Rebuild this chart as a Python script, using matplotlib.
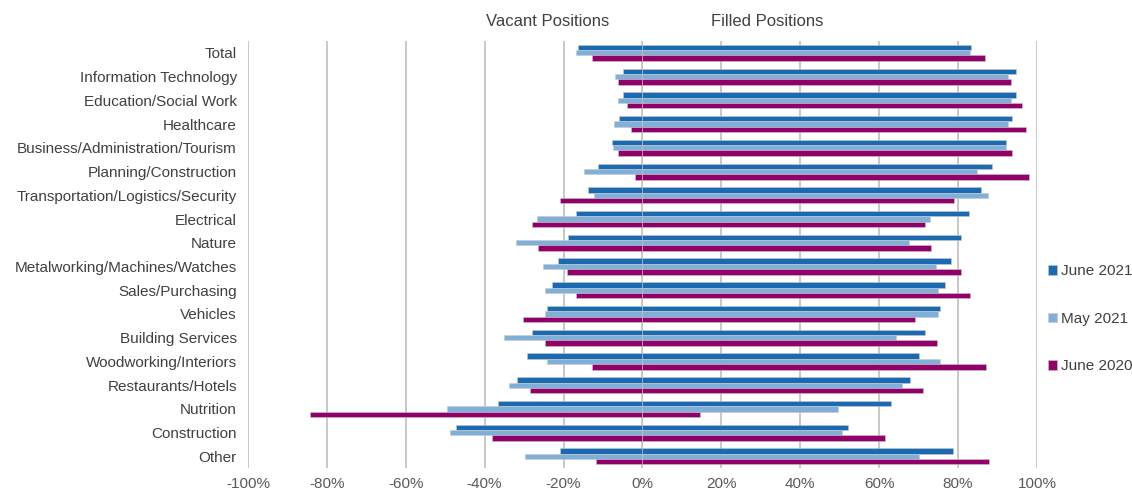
import numpy as np
import matplotlib.pyplot as plt

plt.rcParams['font.family'] = ['Liberation Sans', 'DejaVu Sans']

categories = ['Total', 'Information Technology', 'Education/Social Work', 'Healthcare',
              'Business/Administration/Tourism', 'Planning/Construction',
              'Transportation/Logistics/Security', 'Electrical', 'Nature',
              'Metalworking/Machines/Watches', 'Sales/Purchasing', 'Vehicles',
              'Building Services', 'Woodworking/Interiors', 'Restaurants/Hotels',
              'Nutrition', 'Construction', 'Other']

# vacant positions (negative side), in %
vacant_jun21 = [16.3, 5.0, 5.0, 6.0, 7.7, 11.3, 13.8, 16.8, 18.9, 21.3, 22.8, 24.2, 27.9, 29.3, 31.8, 36.5, 47.3, 21.0]
vacant_may21 = [16.8, 7.0, 6.3, 7.3, 7.5, 14.8, 12.3, 26.7, 32.1, 25.3, 24.6, 24.6, 35.0, 24.3, 33.8, 49.6, 48.8, 29.8]
vacant_jun20 = [12.9, 6.3, 3.8, 2.8, 6.3, 1.9, 20.8, 27.9, 26.4, 19.0, 16.8, 30.3, 24.8, 12.8, 28.6, 84.3, 38.1, 11.8]

# filled positions (positive side), in %
filled_jun21 = [83.4, 94.8, 94.8, 93.8, 92.2, 88.5, 85.8, 82.8, 80.8, 78.2, 76.8, 75.4, 71.6, 70.2, 67.9, 63.0, 52.0, 78.8]
filled_may21 = [83.0, 92.7, 93.5, 92.7, 92.2, 84.9, 87.5, 72.9, 67.7, 74.5, 74.9, 74.9, 64.4, 75.4, 65.7, 49.7, 50.7, 70.0]
filled_jun20 = [86.8, 93.5, 96.3, 97.2, 93.8, 97.9, 79.0, 71.6, 73.1, 80.8, 83.0, 69.2, 74.8, 87.2, 71.1, 14.5, 61.5, 87.9]

series = ['June 2021', 'May 2021', 'June 2020']
colors = ['#1A69B1', '#80AFDA', '#900068']

fig = plt.figure(figsize=(11.32, 4.93), dpi=100)
ax = fig.add_axes([0.219, 0.05, 0.697, 0.867])

y = np.arange(len(categories))
h = 0.225
offsets = [-h, 0, h]
vac = [vacant_jun21, vacant_may21, vacant_jun20]
fil = [filled_jun21, filled_may21, filled_jun20]
for k in range(3):
    ax.barh(y + offsets[k], -np.array(vac[k]), height=h, color=colors[k],
            edgecolor='#C8C8C8', linewidth=0.4, label=series[k], zorder=3)
    ax.barh(y + offsets[k], fil[k], height=h, color=colors[k],
            edgecolor='#C8C8C8', linewidth=0.4, zorder=3)

ax.set_xlim(-100, 100)
ax.set_ylim(len(categories) - 0.5, -0.5)
ax.set_yticks(y)
ax.set_yticklabels(categories, fontsize=11, color='#404040')
ax.set_xticks(np.arange(-100, 101, 20))
ax.set_xticklabels([f'{v}%' for v in range(-100, 101, 20)], fontsize=11, color='#595959')
ax.tick_params(length=0, pad=8)
ax.tick_params(axis='x', pad=6)
ax.grid(axis='x', color='#BFBFBF', linewidth=1.2, zorder=0)
for s in ax.spines.values():
    s.set_visible(False)

fig.text(0.484, 0.957, 'Vacant Positions', ha='center', va='center', fontsize=12, color='#404040')
fig.text(0.678, 0.957, 'Filled Positions', ha='center', va='center', fontsize=12, color='#404040')

leg = ax.legend(loc='center left', bbox_to_anchor=(1.0, 0.35), frameon=False,
                fontsize=11, handlelength=0.6, handleheight=0.6, handletextpad=0.3,
                labelspacing=2.2, borderaxespad=0.3)
for t in leg.get_texts():
    t.set_color('#404040')

fig.savefig('out.png', dpi=100)
